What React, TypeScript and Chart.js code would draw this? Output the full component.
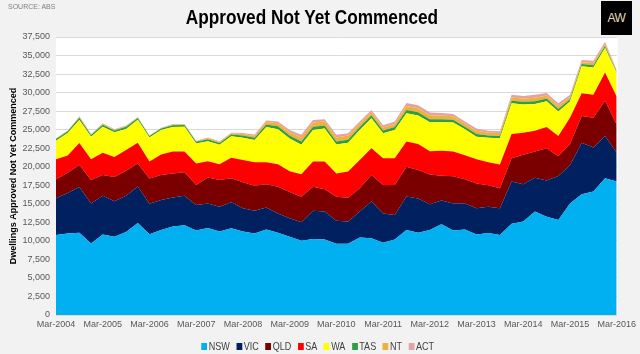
import React, { useEffect, useRef } from 'react';
import { Chart, registerables } from 'chart.js';

Chart.register(...registerables);

const YEARS = [2004, 2005, 2006, 2007, 2008, 2009, 2010, 2011, 2012, 2013, 2014, 2015, 2016];
const QUARTERS = ['Mar', 'Jun', 'Sep', 'Dec'];
const LAST_LABEL = 'Mar-2016';
const LABELS: string[] = [];
for (const y of YEARS) {
  for (const q of QUARTERS) {
    if (LABELS[LABELS.length - 1] === LAST_LABEL) break;
    LABELS.push(`${q}-${y}`);
  }
}

const NSW = [10800, 11000, 11100, 9650, 10850, 10550, 11200, 12400, 10900, 11450, 11950, 12100, 11400, 11750, 11250, 11700, 11250, 11000, 11550, 11100, 10550, 10000, 10250, 10200, 9600, 9600, 10450, 10350, 9750, 10200, 11450, 11100, 11450, 12250, 11400, 11550, 10850, 11050, 10800, 12300, 12600, 13950, 13250, 12800, 15050, 16300, 16650, 18450, 18000];
const VIC = [4950, 5450, 6150, 5400, 5250, 4800, 4900, 4950, 4100, 4050, 3900, 4000, 3450, 3300, 3350, 3500, 3150, 3050, 2950, 2600, 2500, 2500, 3800, 3750, 3100, 3000, 3500, 4950, 3950, 3300, 4550, 4600, 3500, 3200, 3650, 3500, 3550, 3550, 3600, 5700, 5050, 4550, 4900, 5950, 5150, 6950, 5950, 5700, 3900];
const QLD = [2550, 2750, 3000, 3150, 2800, 3250, 3350, 3100, 3400, 3400, 3250, 3150, 2700, 3500, 3600, 3250, 3500, 3400, 3150, 3600, 3550, 3450, 3250, 3000, 3250, 3200, 3150, 3600, 3850, 4050, 4000, 3850, 4000, 3350, 3650, 3250, 3350, 2900, 2700, 3150, 3950, 3550, 4350, 2650, 2850, 3600, 4000, 4750, 3750];
const SA = [2700, 2300, 2950, 2800, 3000, 2700, 2800, 2800, 2300, 2750, 2950, 2800, 2900, 2200, 2150, 2750, 3000, 3150, 2950, 3050, 2800, 3050, 3400, 3750, 3150, 3550, 3800, 3600, 3600, 3600, 3400, 3500, 3150, 3350, 3350, 3250, 3250, 3100, 3200, 3250, 3000, 2800, 2850, 2750, 3550, 3050, 3100, 3800, 3800];
const WA = [2500, 3050, 3100, 3050, 3500, 3350, 2850, 3100, 3250, 3300, 3300, 3350, 2700, 2700, 2600, 2900, 3000, 3000, 4750, 4700, 4400, 3950, 4250, 4450, 3900, 3900, 4050, 4050, 3350, 3800, 3800, 3850, 3900, 3850, 3900, 3500, 3050, 3300, 3550, 4150, 3800, 3600, 3500, 3300, 2200, 3650, 3700, 3300, 3150];
const TAS = [230, 230, 300, 230, 280, 250, 280, 230, 200, 200, 250, 230, 230, 250, 250, 250, 300, 300, 350, 400, 400, 450, 450, 400, 400, 400, 400, 400, 400, 400, 450, 450, 400, 400, 400, 350, 350, 300, 300, 350, 350, 400, 350, 350, 300, 300, 300, 300, 150];
const NT = [60, 60, 100, 60, 80, 70, 80, 60, 50, 50, 70, 60, 60, 150, 150, 150, 200, 250, 350, 400, 450, 550, 550, 550, 550, 550, 450, 400, 400, 450, 550, 550, 550, 500, 450, 400, 450, 400, 400, 450, 450, 450, 400, 400, 300, 250, 300, 250, 100];
const ACT = [60, 60, 100, 60, 90, 80, 90, 60, 50, 50, 80, 60, 60, 100, 100, 100, 150, 200, 200, 250, 300, 350, 350, 300, 350, 300, 300, 300, 300, 300, 400, 400, 350, 350, 300, 300, 300, 250, 250, 350, 350, 400, 350, 350, 300, 300, 300, 300, 150];

const SERIES_NAMES = ['NSW', 'VIC', 'QLD', 'SA', 'WA', 'TAS', 'NT', 'ACT'];
const SERIES_DATA = [NSW, VIC, QLD, SA, WA, TAS, NT, ACT];
const SERIES_COLORS = ['#00b0f0', '#002060', '#7a0000', '#ff0000', '#ffff00', '#2e9e44', '#f2b03a', '#e3a3a3'];

const TITLE = 'Approved Not Yet Commenced';
const Y_TITLE = 'Dwellings Approved Not Yet Commenced';
const SOURCE = 'SOURCE: ABS';
const Y_MAX = 37500;
const Y_STEP = 2500;

const FONT = '"Liberation Sans Narrow", "Arial Narrow", "Liberation Sans", Arial, sans-serif';

const bgPlugin = {
  id: 'plotBg',
  beforeDraw(chart: any) {
    const { ctx, chartArea: a } = chart;
    ctx.save();
    ctx.fillStyle = '#ffffff';
    ctx.fillRect(a.left, a.top, a.right - a.left + 1, a.bottom - a.top);
    ctx.restore();
  },
};

export default function App() {
  const ref = useRef<HTMLCanvasElement>(null);

  useEffect(() => {
    document.body.style.margin = '0';
    const canvas = ref.current;
    if (!canvas) return;
    const chart = new Chart(canvas, {
      type: 'line',
      data: {
        labels: LABELS,
        datasets: SERIES_NAMES.map((name, i) => ({
          label: name,
          data: SERIES_DATA[i],
          backgroundColor: SERIES_COLORS[i],
          borderColor: SERIES_COLORS[i],
          borderWidth: 0,
          fill: i === 0 ? 'origin' : '-1',
          pointRadius: 0,
          tension: 0,
        })),
      },
      options: {
        responsive: false,
        animation: false,
        devicePixelRatio: 1,
        layout: { padding: { top: 37, right: 19, left: 0, bottom: 0 } },
        plugins: {
          legend: { display: false },
          tooltip: { enabled: false },
          title: { display: false },
        },
        scales: {
          x: {
            offset: false,
            grid: { display: false, drawTicks: false },
            border: { display: true, color: '#d9d9d9' },
            ticks: {
              autoSkip: false,
              maxRotation: 0,
              minRotation: 0,
              padding: 4,
              color: '#595959',
              font: { family: FONT, size: 9 },
              callback: (_v: any, idx: number) => (idx % 4 === 0 ? LABELS[idx] : ''),
            },
            afterFit: (s: any) => {
              s.height = 39;
            },
          },
          y: {
            stacked: true,
            min: 0,
            max: Y_MAX,
            grid: { color: '#d9d9d9', lineWidth: 1, drawTicks: false },
            border: { display: false },
            ticks: {
              stepSize: Y_STEP,
              padding: 6,
              color: '#595959',
              font: { family: FONT, size: 9 },
              callback: (v: any) => Number(v).toLocaleString('en-US'),
            },
            title: {
              display: true,
              text: Y_TITLE,
              color: '#000000',
              font: { family: FONT, size: 9, weight: 'bold' },
              padding: { top: 8, bottom: 0 },
            },
            afterFit: (s: any) => {
              s.width = 56;
            },
          },
        },
      },
      plugins: [bgPlugin],
    } as any);
    return () => chart.destroy();
  }, []);

  return (
    <div style={{ position: 'relative', width: 640, height: 354, background: '#f2f2f2', overflow: 'hidden', fontFamily: FONT }}>
      <canvas ref={ref} width={640} height={354} style={{ position: 'absolute', left: 0, top: 0 }} />
      <div style={{ position: 'absolute', left: 8, top: 3, fontSize: 7, color: '#7f7f7f' }}>{SOURCE}</div>
      <div style={{ position: 'absolute', left: 0, width: 624, top: 5, textAlign: 'center', fontSize: 21, fontWeight: 'bold', color: '#000', transform: 'scaleX(0.82)', transformOrigin: '312px 0' }}>{TITLE}</div>
      <div style={{ position: 'absolute', left: 601, top: 1, width: 31, height: 34, background: '#000', color: '#e9dcbc', fontSize: 12, display: 'flex', alignItems: 'center', justifyContent: 'center', letterSpacing: -0.5, fontFamily: '"Liberation Sans", Arial, sans-serif', fontWeight: 300 }}>AW</div>
      <div style={{ position: 'absolute', left: 0, width: 642, top: 340, display: 'flex', justifyContent: 'center', alignItems: 'center', fontSize: 11, color: '#404040', transform: 'scaleX(0.82)', transformOrigin: '321px 0' }}>
        {SERIES_NAMES.map((n, i) => (
          <div key={n} style={{ display: 'flex', alignItems: 'center', marginRight: 8 }}>
            <span style={{ display: 'inline-block', width: 7, height: 7, background: SERIES_COLORS[i], marginRight: 2 }} />
            <span>{n}</span>
          </div>
        ))}
      </div>
    </div>
  );
}
